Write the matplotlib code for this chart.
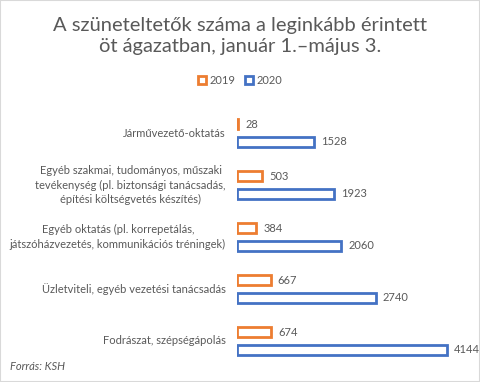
import matplotlib.pyplot as plt
from matplotlib.patches import Rectangle
from matplotlib.lines import Line2D

# data
categories = [
    "Járművezető-oktatás",
    "Egyéb szakmai, tudományos, műszaki\ntevékenység (pl. biztonsági tanácsadás,\népítési költségvetés készítés)",
    "Egyéb oktatás (pl. korrepetálás,\njátszóházvezetés, kommunikációs tréningek)",
    "Üzletviteli, egyéb vezetési tanácsadás",
    "Fodrászat, szépségápolás",
]
v2019 = [28, 503, 384, 667, 674]
v2020 = [1528, 1923, 2060, 2740, 4144]
series = ["2019", "2020"]

orange = "#ED7D31"
blue = "#4472C4"
grey = "#595959"

plt.rcParams['font.family'] = ['Lato', 'DejaVu Sans']

fig = plt.figure(figsize=(4.8, 3.82), dpi=100)
fig.patches.append(Rectangle((0, 0), 1, 1, transform=fig.transFigure,
                             fill=False, edgecolor="#d9d9d9", lw=1.5))

W, H = 480, 382
left, right, top, bottom = 237, 470, 107, 367
ax = fig.add_axes([left / W, 1 - bottom / H, (right - left) / W, (bottom - top) / H])

px_per_unit = (447 - 237) / 4144
ax.set_xlim(0, (right - left) / px_per_unit)
ax.set_ylim(4.5, -0.5)
ax.axis("off")

ypos = list(range(len(categories)))
off = 0.165
h = 0.19
ax.barh([y - off for y in ypos], v2019, height=h, color="white", edgecolor=orange, lw=2)
ax.barh([y + off for y in ypos], v2020, height=h, color="white", edgecolor=blue, lw=2)

for y, a, b in zip(ypos, v2019, v2020):
    ax.annotate(str(a), (a, y - off), xytext=(5, 0), textcoords="offset points",
                va="center", ha="left", fontsize=8, color=grey, annotation_clip=False)
    ax.annotate(str(b), (b, y + off), xytext=(5, 0), textcoords="offset points",
                va="center", ha="left", fontsize=8, color=grey, annotation_clip=False)
    ax.annotate(categories[y], (0, y), xytext=(-8, 0), textcoords="offset points",
                va="center", ha="right", multialignment="center",
                fontsize=8.0, color=grey, linespacing=1.4, annotation_clip=False)

fig.text(0.5, 1 - 36 / H, "A szüneteltetők száma a leginkább érintett\nöt ágazatban, január 1.–május 3.",
         ha="center", va="center", fontsize=14.5, color=grey, linespacing=1.25)

handles = [Line2D([], [], marker="s", ls="none", markersize=6, markerfacecolor="white",
                  markeredgecolor=c, markeredgewidth=2) for c in (orange, blue)]
fig.legend(handles, series, loc="center", bbox_to_anchor=(0.5, 1 - 80 / H), ncol=2,
           frameon=False, fontsize=8, labelcolor=grey, handlelength=0.8,
           handletextpad=0.3, columnspacing=0.8)

fig.text(10 / W, 1 - 367 / H, "Forrás: KSH", ha="left", va="center",
         fontsize=8, style="italic", color=grey)

fig.savefig("out.png", dpi=100)
